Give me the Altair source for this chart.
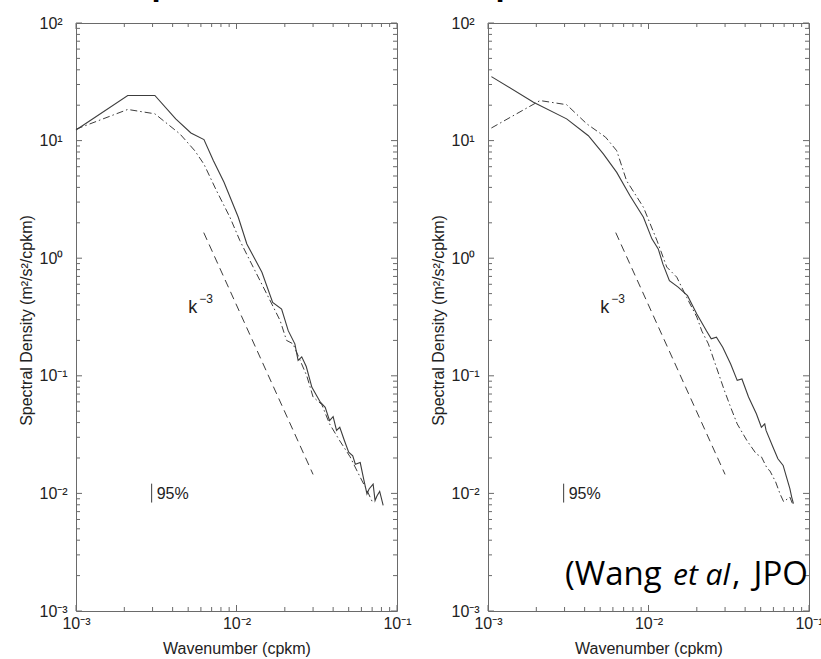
import altair as alt
import pandas as pd

# ---------------- data ----------------
left_solid_k = [1.0e-3, 2.1e-3, 3.1e-3, 4.18e-3, 5.2e-3, 6.27e-3, 7.17e-3, 8.36e-3, 1.026e-2, 1.16e-2,
                1.44e-2, 1.68e-2, 1.91e-2, 2.1e-2, 2.31e-2, 2.42e-2, 2.55e-2, 2.72e-2, 2.95e-2, 3.33e-2,
                3.57e-2, 3.8e-2, 4.0e-2, 4.2e-2, 4.4e-2, 4.7e-2, 5.0e-2, 5.3e-2, 5.5e-2, 5.9e-2,
                6.2e-2, 6.5e-2, 6.7e-2, 7.1e-2, 7.3e-2, 7.5e-2, 7.8e-2, 8.2e-2]
left_solid_s = [12.3, 24.2, 24.2, 15.3, 11.6, 10.2, 6.76, 4.42, 2.23, 1.32,
                0.76, 0.42, 0.37, 0.242, 0.187, 0.135, 0.145, 0.12, 0.0797, 0.0596,
                0.0539, 0.0416, 0.045, 0.0343, 0.0365, 0.0282, 0.0224, 0.0209, 0.0177, 0.0183,
                0.0132, 0.0099, 0.0109, 0.012, 0.0087, 0.0095, 0.0104, 0.0079]

left_dd_k = [1.0e-3, 2.1e-3, 3.1e-3, 4.44e-3, 5.5e-3, 6.27e-3, 7.5e-3, 9.1e-3, 1.05e-2, 1.27e-2,
             1.54e-2, 1.87e-2, 2.05e-2, 2.25e-2, 2.74e-2, 3.0e-2, 3.4e-2, 3.8e-2, 4.4e-2, 5.1e-2,
             5.75e-2, 6.5e-2, 7.1e-2]
left_dd_s = [12.5, 18.4, 16.9, 11.4, 8.2, 6.3, 3.76, 2.23, 1.41, 0.84,
             0.50, 0.295, 0.2, 0.187, 0.1, 0.066, 0.057, 0.039, 0.028, 0.0205,
             0.0147, 0.0106, 0.0082]

right_solid_k = [1.05e-3, 1.92e-3, 3.09e-3, 4.22e-3, 5.23e-3, 6.34e-3, 7.67e-3, 9.3e-3, 1.05e-2, 1.15e-2,
                 1.23e-2, 1.35e-2, 1.53e-2, 1.75e-2, 2.0e-2, 2.3e-2, 2.46e-2, 2.65e-2, 2.9e-2, 3.25e-2,
                 3.57e-2, 3.82e-2, 4.2e-2, 4.7e-2, 5.05e-2, 5.3e-2, 5.4e-2, 5.95e-2, 6.4e-2, 6.9e-2,
                 7.25e-2, 7.6e-2, 7.8e-2, 8.0e-2]
right_solid_s = [35, 21.2, 15.3, 11.0, 7.7, 5.37, 3.4, 2.23, 1.46, 1.2,
                 0.89, 0.645, 0.567, 0.48, 0.336, 0.24, 0.206, 0.213, 0.175, 0.126,
                 0.0914, 0.094, 0.066, 0.0476, 0.0365, 0.039, 0.0343, 0.0249, 0.0197, 0.0173,
                 0.0137, 0.011, 0.0093, 0.0082]

right_dd_k = [1.05e-3, 2.11e-3, 3.09e-3, 4.12e-3, 5.4e-3, 6.34e-3, 7.3e-3, 9.3e-3, 1.13e-2, 1.3e-2,
              1.5e-2, 1.73e-2, 2.0e-2, 2.15e-2, 2.36e-2, 2.65e-2, 2.97e-2, 3.25e-2, 3.57e-2, 4.1e-2,
              4.7e-2, 5.05e-2, 5.5e-2, 5.7e-2, 6.2e-2, 6.6e-2, 6.95e-2, 7.6e-2, 8.0e-2]
right_dd_s = [12.8, 21.9, 20.2, 13.9, 10.7, 8.2, 4.56, 2.71, 1.41, 0.84,
              0.69, 0.464, 0.316, 0.24, 0.187, 0.118, 0.075, 0.054, 0.039, 0.0282,
              0.0216, 0.0205, 0.0162, 0.0156, 0.0125, 0.0099, 0.0085, 0.0093, 0.0078]

ref_k = [6.25e-3, 3.0e-2]          # k^-3 reference line end points
ref_s = [1.65, 0.0145]

x_tick_vals = [1e-3, 1e-2, 1e-1]
x_tick_text = ["10⁻³", "10⁻²", "10⁻¹"]
y_tick_vals = [1e-3, 1e-2, 1e-1, 1e0, 1e1, 1e2]
y_tick_text = ["10⁻³", "10⁻²", "10⁻¹", "10⁰", "10¹", "10²"]
x_minor = [m * d for d in [1e-3, 1e-2] for m in range(2, 10)]
y_minor = [m * d for d in [1e-3, 1e-2, 1e-1, 1e0, 1e1] for m in range(2, 10)]

conf_k = [2.96e-3]
conf_lo = [0.00836]
conf_hi = [0.0121]

W, H = 321, 588
INK = "#3c3c3c"
FRAME = "#6a6a6a"
FONT = "Liberation Sans"


def label_expr(vals, texts):
    expr = "'" + texts[-1] + "'"
    for v, t in reversed(list(zip(vals[:-1], texts[:-1]))):
        expr = f"datum.value < {v * 3.1623} ? '{t}' : ({expr})"
    return expr


xscale = alt.Scale(type="log", domain=[1e-3, 1e-1], nice=False)
yscale = alt.Scale(type="log", domain=[1e-3, 1e2], nice=False)

xaxis = alt.Axis(values=x_tick_vals, labelExpr=label_expr(x_tick_vals, x_tick_text),
                 ticks=False, tickSize=0, domain=False, grid=False, labelPadding=4,
                 labelFlush=False, labelOverlap=False,
                 title="Wavenumber (cpkm)", titleY=42, titleBaseline="alphabetic")
yaxis = alt.Axis(values=y_tick_vals, labelExpr=label_expr(y_tick_vals, y_tick_text),
                 ticks=False, tickSize=0, domain=False, grid=False, labelPadding=37,
                 labelAlign="left", labelBaseline="middle", labelFlush=False, labelOverlap=False,
                 title="Spectral Density (m²/s²/cpkm)", titleX=-45, titleY=297,
                 titleAngle=-90, titleAlign="center", titleBaseline="alphabetic")


def X(field="k"):
    return alt.X(f"{field}:Q", scale=xscale, axis=xaxis)


def Y(field="s"):
    return alt.Y(f"{field}:Q", scale=yscale, axis=yaxis)


def ticks_layers():
    layers = []
    for vals, ln in [(x_tick_vals, 6), (x_minor, 4)]:
        d = pd.DataFrame({"k": vals})
        layers.append(alt.Chart(d).mark_rule(color=FRAME, strokeWidth=1).encode(
            x=X(), y=alt.value(H), y2=alt.value(H - ln)))
        layers.append(alt.Chart(d).mark_rule(color=FRAME, strokeWidth=1).encode(
            x=X(), y=alt.value(0), y2=alt.value(ln)))
    for vals, ln in [(y_tick_vals, 6), (y_minor, 4)]:
        d = pd.DataFrame({"s": vals})
        layers.append(alt.Chart(d).mark_rule(color=FRAME, strokeWidth=1).encode(
            y=Y(), x=alt.value(0), x2=alt.value(ln)))
        layers.append(alt.Chart(d).mark_rule(color=FRAME, strokeWidth=1).encode(
            y=Y(), x=alt.value(W), x2=alt.value(W - ln)))
    return layers


def panel(solid_k, solid_s, dd_k, dd_s, extra):
    solid = alt.Chart(pd.DataFrame({"k": solid_k, "s": solid_s})).mark_line(
        color=INK, strokeWidth=1.1).encode(x=X(), y=Y())
    dd = alt.Chart(pd.DataFrame({"k": dd_k, "s": dd_s})).mark_line(
        color=INK, strokeWidth=1, strokeDash=[7, 3, 1.5, 3]).encode(x=X(), y=Y())
    ref = alt.Chart(pd.DataFrame({"k": ref_k, "s": ref_s})).mark_line(
        color=INK, strokeWidth=1, strokeDash=[8, 5]).encode(x=X(), y=Y())
    klab = alt.Chart(pd.DataFrame({"k": [5.0e-3], "s": [0.34], "t": ["k"]})).mark_text(
        font=FONT, fontSize=18, align="left", baseline="alphabetic", color="#222").encode(
        x=X(), y=Y(), text="t:N")
    ksup = alt.Chart(pd.DataFrame({"k": [5.0e-3], "s": [0.34], "t": ["−3"]})).mark_text(
        font=FONT, fontSize=12, align="left", baseline="alphabetic", dx=11, dy=-10,
        color="#222").encode(x=X(), y=Y(), text="t:N")
    conf = alt.Chart(pd.DataFrame({"k": conf_k, "s": conf_lo, "hi": conf_hi})).mark_rule(
        color=INK, strokeWidth=1).encode(x=X(), y=Y(), y2="hi:Q")
    conf_t = alt.Chart(pd.DataFrame({"k": conf_k, "s": [0.00996], "t": ["95%"]})).mark_text(
        font=FONT, fontSize=16, align="left", baseline="middle", dx=5, color="#222").encode(
        x=X(), y=Y(), text="t:N")
    return alt.layer(solid, dd, ref, klab, ksup, conf, conf_t, *ticks_layers(), *extra).properties(
        width=W, height=H)


title_txt = alt.Chart(pd.DataFrame({"t": ["Spectrum (KE) and SSH spectrum"]})).mark_text(
    font="Open Sans", fontSize=30, fontWeight="bold", align="left", baseline="alphabetic",
    color="#000").encode(x=alt.value(59), y=alt.value(-28), text="t:N")

cite1 = alt.Chart(pd.DataFrame({"t": ["(Wang"]})).mark_text(
    font="Open Sans", fontSize=33, align="left", baseline="alphabetic", color="#000").encode(
    x=alt.value(77), y=alt.value(562), text="t:N")
cite2 = alt.Chart(pd.DataFrame({"t": ["et al"]})).mark_text(
    font="Open Sans", fontSize=30, fontStyle="italic", align="left", baseline="alphabetic",
    color="#000").encode(x=alt.value(185), y=alt.value(562), text="t:N")
cite3 = alt.Chart(pd.DataFrame({"t": [","]})).mark_text(
    font="Open Sans", fontSize=33, align="left", baseline="alphabetic", color="#000").encode(
    x=alt.value(244), y=alt.value(562), text="t:N")
cite4 = alt.Chart(pd.DataFrame({"t": ["JPO"]})).mark_text(
    font="Open Sans", fontSize=33, align="right", baseline="alphabetic", color="#000").encode(
    x=alt.value(320), y=alt.value(562), text="t:N")

left = panel(left_solid_k, left_solid_s, left_dd_k, left_dd_s, [title_txt])
right = panel(right_solid_k, right_solid_s, right_dd_k, right_dd_s, [cite1, cite2, cite3, cite4])

chart = alt.hconcat(left, right, spacing=91, bounds="flush").resolve_scale(
    x="independent", y="independent").properties(
    autosize=alt.AutoSizeParams(type="none"),
    padding={"left": 76, "top": 23, "right": 745, "bottom": 48},
    background="white",
).configure_view(stroke=FRAME, strokeWidth=1).configure_axis(
    labelFont=FONT, labelFontSize=16, labelColor="#222",
    titleFont=FONT, titleFontSize=16, titleFontWeight="normal", titleColor="#222",
)

chart.save("out.html", embed_options={"renderer": "svg", "actions": False})
